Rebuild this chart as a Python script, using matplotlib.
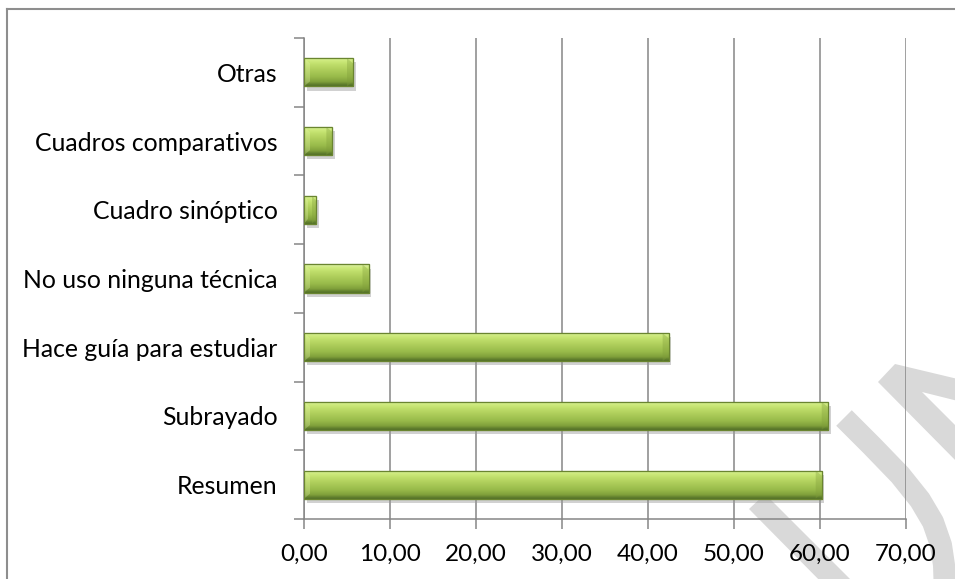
import numpy as np
import matplotlib
matplotlib.use("Agg")
import matplotlib.pyplot as plt
from matplotlib.colors import LinearSegmentedColormap
from matplotlib.lines import Line2D
from matplotlib.patches import Polygon
import matplotlib.patheffects as pe
from matplotlib.ticker import FuncFormatter, FixedLocator

# Datos (de abajo hacia arriba)
categorias = ["Resumen", "Subrayado", "Hace guía para estudiar",
              "No uso ninguna técnica", "Cuadro sinóptico",
              "Cuadros comparativos", "Otras"]
valores = [60.2, 60.9, 42.4, 7.5, 1.4, 3.3, 5.7]
x_ticks = [0, 10, 20, 30, 40, 50, 60, 70]

W, H = 955, 579
plt.rcParams['font.family'] = ['Lato', 'DejaVu Sans']

fig = plt.figure(figsize=(W / 100, H / 100), dpi=100)
fig.patch.set_facecolor('white')


def fx(px):
    return px / W


def fy(py):
    return 1 - py / H


# --- marca de agua (fondo) ---
wm = '#d9d9d9'
fig.add_artist(Polygon([(fx(749), fy(509)), (fx(765), fy(494)),
                        (fx(862), fy(591)), (fx(830), fy(591))],
                       closed=True, facecolor=wm, edgecolor='none',
                       transform=fig.transFigure, zorder=0))
fig.add_artist(Polygon([(fx(878), fy(382)), (fx(895), fy(364)),
                        (fx(962), fy(380)), (fx(962), fy(402)),
                        (fx(922), fy(392)), (fx(962), fy(432)),
                        (fx(962), fy(467))],
                       closed=True, facecolor=wm, edgecolor='none',
                       transform=fig.transFigure, zorder=0))
bx = [844, 872, 900, 920, 933, 941, 944, 945]
by = [418, 446, 475, 500, 522, 545, 565, 595]
fig.add_artist(Line2D([fx(v) for v in bx], [fy(v) for v in by],
                      color=wm, lw=22 * 0.72, solid_capstyle='butt',
                      solid_joinstyle='round',
                      transform=fig.transFigure, zorder=0))

# --- marco exterior (solo izquierda y arriba visibles) ---
fig.add_artist(Line2D([fx(6.5), fx(6.5)], [fy(8.5), -0.05], color='#8e8e8e',
                      lw=1.5, transform=fig.transFigure, clip_on=False))
fig.add_artist(Line2D([fx(6.5), 1.05], [fy(8.5), fy(8.5)], color='#8e8e8e',
                      lw=1.5, transform=fig.transFigure, clip_on=False))

ax = fig.add_axes([fx(304), fy(519), fx(906) - fx(304), (519 - 38) / H])
ax.patch.set_alpha(0)

pos = np.arange(len(categorias))
alto = 0.41
bars = ax.barh(pos, valores, height=alto, color='#9bbb59',
               edgecolor='#6a8530', linewidth=0.8, zorder=3)

# degradado tipo Excel
grad_cmap = LinearSegmentedColormap.from_list('verde', [
    (0.00, '#54702a'), (0.06, '#63812e'), (0.14, '#80a03b'),
    (0.32, '#98ba4a'), (0.55, '#adcd5a'), (0.78, '#c2e16e'),
    (0.90, '#d0ec80'), (1.00, '#dcedaf')])
grad = np.linspace(0, 1, 64).reshape(-1, 1)
bev_x = 0.7   # ancho del bisel en unidades de datos
for b in bars:
    b.set_path_effects([pe.SimplePatchShadow(offset=(2, -3),
                                             shadow_rgbFace='#9a9a9a',
                                             alpha=0.45), pe.Normal()])
    x0, y0 = b.get_x(), b.get_y()
    w, h = b.get_width(), b.get_height()
    im = ax.imshow(grad, cmap=grad_cmap, origin='lower', aspect='auto',
                   extent=(x0, x0 + w, y0, y0 + h), zorder=4,
                   interpolation='bilinear')
    im.set_clip_path(b)
    # bisel en los extremos
    d = min(bev_x, w / 3)
    e = h * 0.18
    x1 = x0 + w
    ax.add_patch(Polygon([(x1 - d, y0 + h), (x1, y0 + h - e), (x1, y0 + e),
                          (x1 - d, y0)], closed=True, facecolor='#7f9d3a',
                         alpha=0.35, edgecolor='none', zorder=4.5))
    ax.add_patch(Polygon([(x0, y0 + h), (x0 + d, y0 + h - e),
                          (x0 + d, y0 + e), (x0, y0)], closed=True,
                         facecolor='#e6f5b0', alpha=0.3, edgecolor='none',
                         zorder=4.5))
    # borde
    ax.add_patch(plt.Rectangle((x0, y0), w, h, fill=False,
                               edgecolor='#6a8530', linewidth=0.9, zorder=5))

ax.set_xlim(0, 70)
ax.set_ylim(-0.5, len(categorias) - 0.5)

# ejes
gris = '#868686'
ax.xaxis.set_major_locator(FixedLocator(x_ticks))
ax.xaxis.set_major_formatter(FuncFormatter(lambda v, p: f"{v:.2f}".replace('.', ',')))
ax.grid(axis='x', color=gris, linewidth=1.1, zorder=1)
ax.set_axisbelow(True)

ax.yaxis.set_major_locator(FixedLocator(np.arange(-0.5, len(categorias), 1.0)))
ax.yaxis.set_major_formatter(FuncFormatter(lambda v, p: ''))
ax.yaxis.set_minor_locator(FixedLocator(pos))
ax.set_yticklabels(categorias, minor=True)

ax.tick_params(axis='y', which='major', length=7, width=1.1, color=gris)
ax.tick_params(axis='y', which='minor', length=0, pad=19, labelsize=17.8)
ax.tick_params(axis='x', which='major', length=7, width=1.1, color=gris,
               pad=11, labelsize=17.5)

for s in ['top', 'right']:
    ax.spines[s].set_visible(False)
for s in ['left', 'bottom']:
    ax.spines[s].set_color(gris)
    ax.spines[s].set_linewidth(1.1)

fig.savefig('out.png', dpi=100)
